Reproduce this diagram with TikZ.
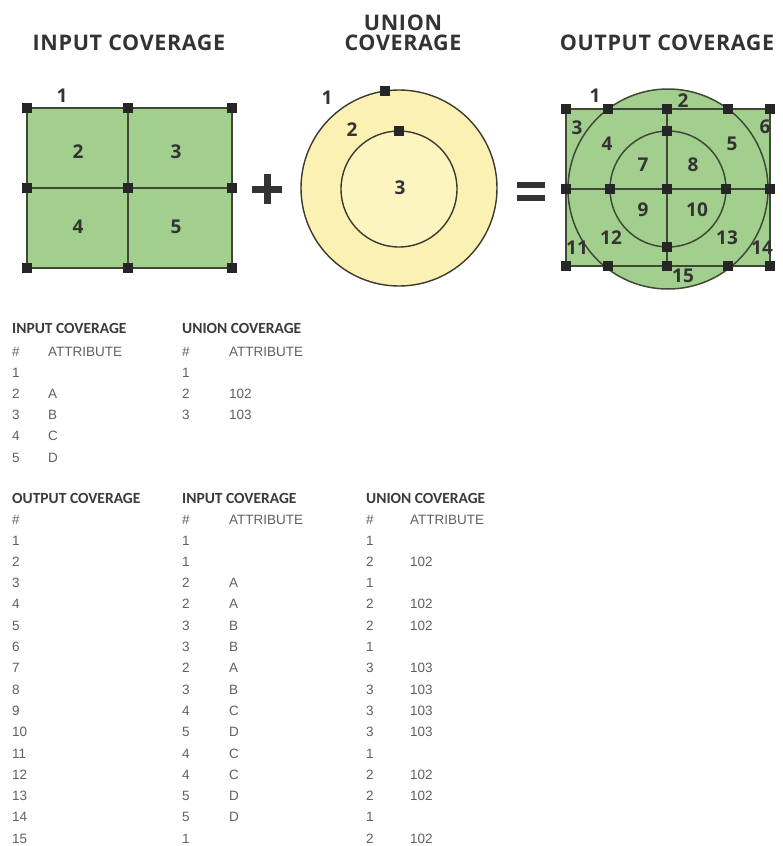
\documentclass[tikz,border=0pt]{standalone}
\usepackage{fontspec}
\setmainfont{Liberation Sans}
\newfontfamily\osb{Open Sans}
\newfontfamily\osbt{Open Sans}[LetterSpace=3]
\newfontfamily\carl{Carlito}
\definecolor{grn}{HTML}{A3CF8E}
\definecolor{ylo}{HTML}{FBF1B2}
\definecolor{yli}{HTML}{FDF5C0}
\definecolor{lnc}{HTML}{3E4A36}
\definecolor{cln}{HTML}{3A3A30}
\definecolor{vtxc}{HTML}{262626}
\definecolor{ttlc}{HTML}{333333}
\definecolor{tbc}{HTML}{606060}
\definecolor{thc}{HTML}{3A3A3A}
\begin{document}
\begin{tikzpicture}[x=1pt,y=-1pt,
  vtx/.style={rectangle, fill=vtxc, minimum size=10pt, inner sep=0pt},
  ttl/.style={font=\osbt\bfseries\fontsize{21.5}{24}\selectfont, text=ttlc, inner sep=0pt, text height=15pt, text depth=0pt},
  lbl/.style={font=\osb\bfseries\fontsize{19}{21}\selectfont, text=ttlc, inner sep=0pt},
  tb/.style={font=\fontsize{13.5}{16}\selectfont, text=tbc, anchor=base west, inner sep=0pt},
  th/.style={font=\carl\bfseries\fontsize{15.5}{17}\selectfont, text=thc, anchor=base west, inner sep=0pt},
  ln/.style={draw=lnc, line width=1.5pt},
  cl/.style={draw=cln, line width=1.4pt},
  sym/.style={fill=ttlc}]
\useasboundingbox (0,0) rectangle (782,846);

% ---------- titles ----------
\node[ttl] (tin) at (129,43) {INPUT COVERAGE};
\node[ttl] (tun1) at (403,23) {UNION};
\node[ttl] (tun2) at (403,43) {COVERAGE};
\node[ttl] (tout) at (667,43) {OUTPUT COVERAGE};

% ---------- input coverage ----------
\coordinate (a11) at (27,108); \coordinate (a12) at (128,108); \coordinate (a13) at (232,108);
\coordinate (a21) at (27,188); \coordinate (a22) at (128,188); \coordinate (a23) at (232,188);
\coordinate (a31) at (27,268); \coordinate (a32) at (128,268); \coordinate (a33) at (232,268);
\fill[grn] (a11) rectangle (a33);
\draw[ln] (a11) -- (a13) -- (a33) -- (a31) -- cycle;
\draw[ln] (a12) -- (a32);
\draw[ln] (a21) -- (a23);
\foreach \n in {a11,a12,a13,a21,a22,a23,a31,a32,a33}
  \node[vtx] (v\n) at (\n) {};
\node[lbl] (i1) at (62,96) {1};
\node[lbl] (i2) at (78,152) {2};
\node[lbl] (i3) at (176,152) {3};
\node[lbl] (i4) at (78,227) {4};
\node[lbl] (i5) at (176,227) {5};

% plus
\fill[sym] (252,185.5) rectangle (282,192.5);
\fill[sym] (263.5,174) rectangle (270.5,204);

% ---------- union coverage ----------
\coordinate (uc) at (399,188);
\coordinate (ui) at (399,189);
\fill[ylo] (uc) circle[radius=98];
\draw[cl] (uc) circle[radius=98];
\fill[yli] (ui) circle[radius=58];
\draw[cl] (ui) circle[radius=58];
\node[vtx] (uv1) at (385,91) {};
\node[vtx] (uv2) at (399,131) {};
\node[lbl] (u1) at (327,98) {1};
\node[lbl] (u2) at (352,130) {2};
\node[lbl] (u3) at (400,188) {3};

% equals
\fill[sym] (517,181.5) rectangle (545,187.5);
\fill[sym] (517,194.5) rectangle (545,200.5);

% ---------- output coverage ----------
\coordinate (oc) at (668,189);
\coordinate (b11) at (566,109); \coordinate (b12) at (608,109); \coordinate (b13) at (667,109);
\coordinate (b14) at (728,109); \coordinate (b15) at (770,109);
\coordinate (b2) at (667,131);
\coordinate (b31) at (566,189); \coordinate (b32) at (610,189); \coordinate (b33) at (667,189);
\coordinate (b34) at (726,189); \coordinate (b35) at (770,189);
\coordinate (b4) at (667,247);
\coordinate (b51) at (566,266); \coordinate (b52) at (608,266); \coordinate (b53) at (667,266);
\coordinate (b54) at (728,266); \coordinate (b55) at (770,266);
\fill[grn] (b11) rectangle (b55);
\fill[grn] (oc) circle[radius=100];
\draw[ln] (b11) -- (b15) -- (b55) -- (b51) -- cycle;
\draw[ln] (oc) circle[radius=100];
\draw[ln] (oc) circle[radius=58];
\draw[ln] (b13) -- (b53);
\draw[ln] (b31) -- (b35);
\foreach \n in {b11,b12,b13,b14,b15,b2,b31,b32,b33,b34,b35,b4,b51,b52,b53,b54,b55}
  \node[vtx] (v\n) at (\n) {};
\node[lbl] (o1) at (595,96) {1};
\node[lbl] (o2) at (683,101) {2};
\node[lbl] (o3) at (577,128) {3};
\node[lbl] (o4) at (607,144) {4};
\node[lbl] (o5) at (732,144) {5};
\node[lbl] (o6) at (765,127) {6};
\node[lbl] (o7) at (643,165) {7};
\node[lbl] (o8) at (693,165) {8};
\node[lbl] (o9) at (643,210) {9};
\node[lbl] (o10) at (697,210) {10};
\node[lbl] (o11) at (577,248) {11};
\node[lbl] (o12) at (611,238) {12};
\node[lbl] (o13) at (727,238) {13};
\node[lbl] (o14) at (762,248) {14};
\node[lbl] (o15) at (683,276) {15};

% ---------- table 1 ----------
\node[th] (h1a) at (12,333) {INPUT COVERAGE};
\node[tb] (h1b) at (12,356) {\#};
\node[tb] (h1c) at (48,356) {ATTRIBUTE};
\foreach \k/\a [count=\i from 0] in {1/,2/A,3/B,4/C,5/D} {
  \node[tb] (t1n\k) at (12,377+21.3*\i) {\k};
  \node[tb] (t1a\k) at (48,377+21.3*\i) {\a};
}
\node[th] (h2a) at (182,333) {UNION COVERAGE};
\node[tb] (h2b) at (182,356) {\#};
\node[tb] (h2c) at (229,356) {ATTRIBUTE};
\foreach \k/\a [count=\i from 0] in {1/,2/102,3/103} {
  \node[tb] (t2n\k) at (182,377+21.3*\i) {\k};
  \node[tb] (t2a\k) at (229,377+21.3*\i) {\a};
}

% ---------- table 2 ----------
\node[th] (h3a) at (12,503) {OUTPUT COVERAGE};
\node[tb] (h3b) at (12,524) {\#};
\node[th] (h4a) at (182,503) {INPUT COVERAGE};
\node[tb] (h4b) at (182,524) {\#};
\node[tb] (h4c) at (229,524) {ATTRIBUTE};
\node[th] (h5a) at (366,503) {UNION COVERAGE};
\node[tb] (h5b) at (366,524) {\#};
\node[tb] (h5c) at (410,524) {ATTRIBUTE};
\foreach \o/\p/\q/\r/\s [count=\i from 0] in {
  1/1//1/, 2/1//2/102, 3/2/A/1/, 4/2/A/2/102, 5/3/B/2/102,
  6/3/B/1/, 7/2/A/3/103, 8/3/B/3/103, 9/4/C/3/103, 10/5/D/3/103,
  11/4/C/1/, 12/4/C/2/102, 13/5/D/2/102, 14/5/D/1/, 15/1//2/102} {
  \node[tb] (r\o a) at (12,545+21.3*\i) {\o};
  \node[tb] (r\o b) at (182,545+21.3*\i) {\p};
  \node[tb] (r\o c) at (229,545+21.3*\i) {\q};
  \node[tb] (r\o d) at (366,545+21.3*\i) {\r};
  \node[tb] (r\o e) at (410,545+21.3*\i) {\s};
}
\end{tikzpicture}
\end{document}
